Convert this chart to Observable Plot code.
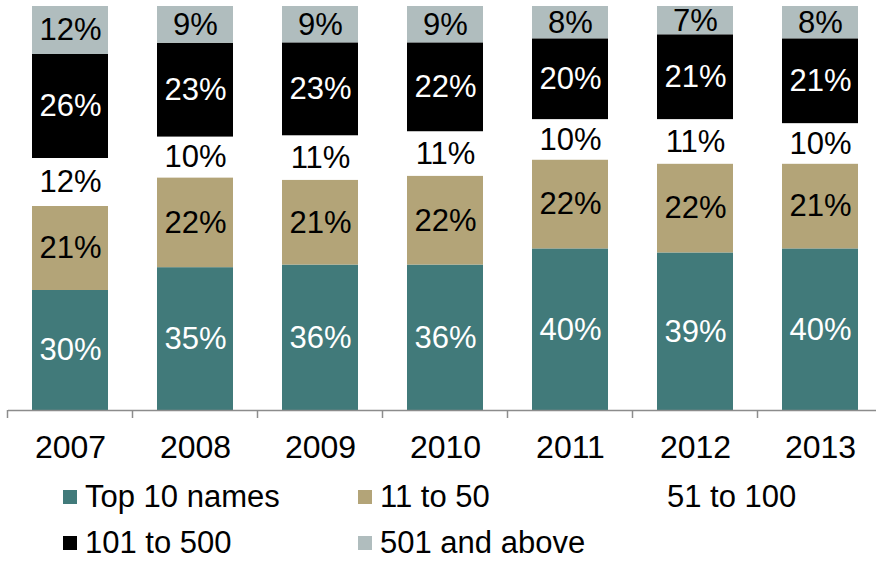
<!DOCTYPE html>
<html><head><meta charset="utf-8">
<script src="https://cdn.jsdelivr.net/npm/d3@7"></script>
<script src="https://cdn.jsdelivr.net/npm/@observablehq/plot@0.6"></script>
<style>
body{margin:0;background:#fff;font-family:"Liberation Sans",Arial,sans-serif;overflow:hidden}
#chart svg{overflow:visible;display:block}
.legend{display:grid;grid-template-columns:295px 287px 220px;margin-left:63px;margin-top:4px}
.item{display:flex;align-items:center;height:46px;font-size:31px;color:#000;white-space:nowrap}
.sw{width:14px;height:14px;margin-right:8px;flex:none}
</style></head>
<body>
<div id="chart"></div>
<div class="legend" id="legend"></div>
<script>
const years = ["2007","2008","2009","2010","2011","2012","2013"];
const categories = ["Top 10 names","11 to 50","51 to 100","101 to 500","501 and above"];
const top10 = [30,35,36,36,40,39,40];
const r11to50 = [21,22,21,22,22,22,21];
const r51to100 = [12,10,11,11,10,11,10];
const r101to500 = [26,23,23,22,20,21,21];
const r501plus = [12,9,9,9,8,7,8];
const colors = ["#417a7a","#b3a478","#ffffff","#000000","#b0bdbe"];
const labelColors = ["white","black","black","white","black"];

const series = [top10, r11to50, r51to100, r101to500, r501plus];
const rows = [];
years.forEach((y, i) => categories.forEach((c, j) => rows.push({year: y, cat: c, value: series[j][i], lc: labelColors[j]})));

const stackOpts = {x: "year", y: "value", z: "cat", order: categories, offset: "normalize"};

const plot = Plot.plot({
  width: 876,
  height: 470,
  marginTop: 6,
  marginBottom: 60,
  marginLeft: 8,
  marginRight: -7,
  style: {fontFamily: "'Liberation Sans', Arial, sans-serif", fontSize: "31px", background: "#fff", overflow: "visible"},
  x: {domain: years, paddingInner: 0.39, paddingOuter: 0.195, label: null},
  y: {axis: null, domain: [0, 1]},
  color: {domain: categories, range: colors},
  marks: [
    Plot.barY(rows, Plot.stackY({...stackOpts, fill: "cat"})),
    Plot.text(rows, Plot.stackY({...stackOpts, text: d => d.lc === "white" ? d.value + "%" : null, fill: "white", fontSize: 31})),
    Plot.text(rows, Plot.stackY({...stackOpts, text: d => d.lc === "black" ? d.value + "%" : null, fill: "black", fontSize: 31})),
    Plot.ruleY([0], {stroke: "#8c8c8c", strokeWidth: 1.5}),
    Plot.axisX({tickSize: 0, tickPadding: 25, fontSize: 32, color: "#000"})
  ]
});
document.getElementById("chart").appendChild(plot);

// boundary ticks between categories, from the x scale
const xs = plot.scale("x"), ys = plot.scale("y");
const gap = (xs.step - xs.bandwidth) / 2;
const y0 = ys.apply(0);
d3.select(plot).append("g")
  .selectAll("line").data(years).join("line")
  .attr("x1", d => xs.apply(d) - gap).attr("x2", d => xs.apply(d) - gap)
  .attr("y1", y0).attr("y2", y0 + 8)
  .attr("stroke", "#8c8c8c").attr("stroke-width", 1.5);

// legend
const lg = document.getElementById("legend");
categories.forEach((c, j) => {
  const it = document.createElement("div"); it.className = "item";
  const sw = document.createElement("span"); sw.className = "sw"; sw.style.background = colors[j];
  it.appendChild(sw);
  it.appendChild(document.createTextNode(c));
  lg.appendChild(it);
});
</script>
</body></html>
